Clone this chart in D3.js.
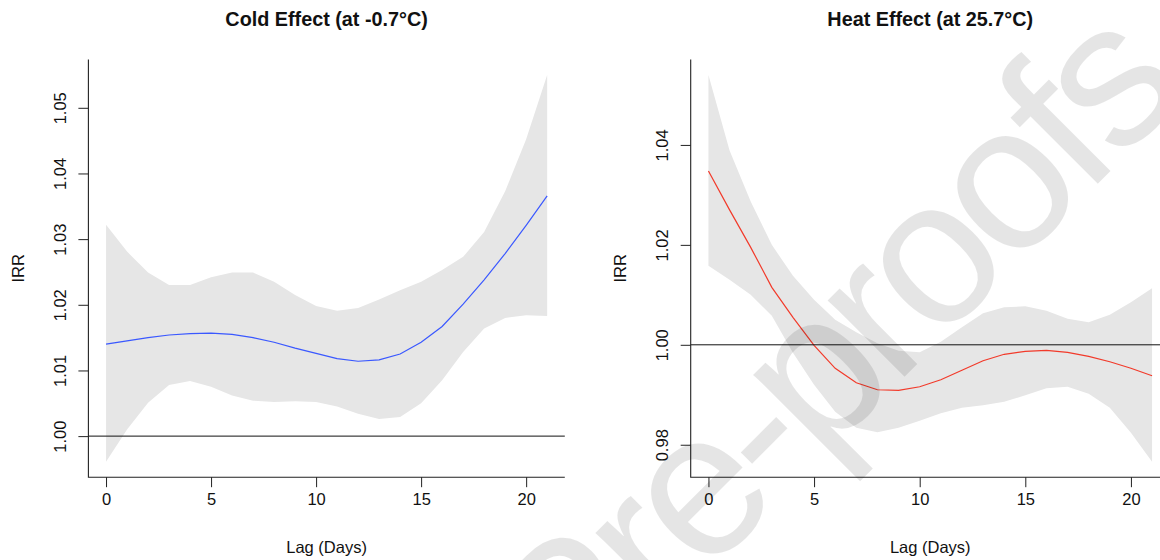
<!DOCTYPE html>
<html>
<head>
<meta charset="utf-8">
<script src="https://cdn.jsdelivr.net/npm/d3@7/dist/d3.min.js"></script>
<style>
  html, body { margin: 0; padding: 0; background: #fff; }
  svg { display: block; font-family: "Liberation Sans", Arial, Helvetica, sans-serif; }
</style>
</head>
<body>
<svg id="chart" width="1160" height="560"></svg>
<script>
"use strict";

// ==========  Data  ==========
var lags = [0, 1, 2, 3, 4, 5, 6, 7, 8, 9, 10, 11, 12, 13, 14, 15, 16, 17, 18, 19, 20, 21]
var xTicks = [0, 5, 10, 15, 20]

var coldFit   = [1.0140, 1.0145, 1.0150, 1.0154, 1.0156, 1.0157, 1.0155, 1.0150, 1.0143, 1.0134, 1.0126,
                 1.0118, 1.0114, 1.0116, 1.0125, 1.0143, 1.0167, 1.0201, 1.0238, 1.0278, 1.0321, 1.0366]
var coldUpper = [1.0322, 1.0281, 1.0249, 1.0230, 1.0230, 1.0242, 1.0249, 1.0249, 1.0235, 1.0215, 1.0198,
                 1.0191, 1.0195, 1.0208, 1.0222, 1.0235, 1.0253, 1.0273, 1.0311, 1.0373, 1.0452, 1.0550]
var coldLower = [0.9961, 1.0010, 1.0051, 1.0078, 1.0084, 1.0075, 1.0062, 1.0054, 1.0052, 1.0053, 1.0052,
                 1.0045, 1.0034, 1.0026, 1.0029, 1.0050, 1.0085, 1.0128, 1.0164, 1.0180, 1.0184, 1.0183]
var coldTicks = [1.00, 1.01, 1.02, 1.03, 1.04, 1.05]

var heatFit   = [1.0348, 1.0270, 1.0195, 1.0115, 1.0055, 0.9999, 0.9953, 0.9924, 0.9910, 0.9909, 0.9916,
                 0.9930, 0.9949, 0.9968, 0.9981, 0.9987, 0.9989, 0.9985, 0.9977, 0.9966, 0.9953, 0.9938]
var heatUpper = [1.0540, 1.0389, 1.0287, 1.0200, 1.0138, 1.0090, 1.0050, 1.0025, 1.0003, 0.9988, 0.9985,
                 1.0006, 1.0035, 1.0063, 1.0075, 1.0077, 1.0068, 1.0052, 1.0045, 1.0060, 1.0085, 1.0113]
var heatLower = [1.0158, 1.0130, 1.0100, 1.0058, 0.9984, 0.9920, 0.9866, 0.9834, 0.9825, 0.9834, 0.9848,
                 0.9863, 0.9874, 0.9879, 0.9886, 0.9899, 0.9913, 0.9916, 0.9902, 0.9874, 0.9824, 0.9766]
var heatTicks = [0.98, 1.00, 1.02, 1.04]

var panels = [
  { title: "Cold Effect (at -0.7°C)", fit: coldFit, upper: coldUpper, lower: coldLower,
    yTicks: coldTicks, color: "#3a58ff", left: 88.4, right: 564.8 },
  { title: "Heat Effect (at 25.7°C)", fit: heatFit, upper: heatUpper, lower: heatLower,
    yTicks: heatTicks, color: "#f23a2a", left: 690.7, right: 1169.8 }
]

var watermark = "Journal Pre-proofs"

// ==========  Drawing  ==========
var svg        = d3.select('#chart')
var plotTop    = 59.5
var plotBottom = 477.2

// R-style 4% padding around the data range
var padded = function(extent) {
  var pad = (extent[1] - extent[0]) * 0.04
  return [extent[0] - pad, extent[1] + pad]
}

var drawPanel = function(p) {
  var x = d3.scaleLinear().domain(padded(d3.extent(lags))).range([p.left, p.right])
  var y = d3.scaleLinear().domain(padded(d3.extent(p.upper.concat(p.lower, p.fit)))).range([plotBottom, plotTop])
  var g = svg.append('g')

  var band = d3.area()
    .x(function(d, i) { return x(lags[i]) })
    .y0(function(d, i) { return y(p.lower[i]) })
    .y1(function(d) { return y(d) })
  g.append('path').attr('d', band(p.upper)).attr('fill', '#e6e6e6')

  var line = d3.line()
    .x(function(d, i) { return x(lags[i]) })
    .y(function(d) { return y(d) })
  g.append('path').attr('d', line(p.fit))
    .attr('fill', 'none').attr('stroke', p.color).attr('stroke-width', 1.2)

  // reference line at IRR = 1
  g.append('line')
    .attr('x1', p.left).attr('x2', p.right)
    .attr('y1', y(1)).attr('y2', y(1))
    .attr('stroke', '#111').attr('stroke-width', 1)

  // L-shaped box
  g.append('path')
    .attr('d', 'M' + p.left + ',' + plotTop + 'V' + plotBottom + 'H' + p.right)
    .attr('fill', 'none').attr('stroke', '#222').attr('stroke-width', 1.1)

  var xAxis = d3.axisBottom(x).tickValues(xTicks).tickSize(10).tickPadding(6).tickFormat(d3.format('d'))
  var gx = g.append('g').attr('transform', 'translate(0,' + plotBottom + ')').call(xAxis)
  gx.select('.domain').remove()
  gx.selectAll('line').attr('stroke', '#222')
  gx.selectAll('text').attr('font-size', 16.5).attr('fill', '#111')
  gx.attr('font-family', null)

  var yAxis = d3.axisLeft(y).tickValues(p.yTicks).tickSize(10).tickFormat(d3.format('.2f'))
  var gy = g.append('g').attr('transform', 'translate(' + p.left + ',0)').call(yAxis)
  gy.select('.domain').remove()
  gy.selectAll('line').attr('stroke', '#222')
  gy.attr('font-family', null)
  gy.selectAll('text')
    .attr('font-size', 16.5).attr('fill', '#111')
    .attr('x', null).attr('dy', null)
    .attr('text-anchor', 'middle')
    .attr('transform', 'translate(-22.5,0) rotate(-90)')

  var cx = (p.left + p.right) / 2
  g.append('text').text(p.title)
    .attr('x', cx).attr('y', 26)
    .attr('text-anchor', 'middle').attr('font-weight', 'bold').attr('font-size', 19.8).attr('fill', '#111')
  g.append('text').text('Lag (Days)')
    .attr('x', cx).attr('y', 553)
    .attr('text-anchor', 'middle').attr('font-size', 16.5).attr('fill', '#111')
  g.append('text').text('IRR')
    .attr('text-anchor', 'middle').attr('font-size', 16.5).attr('fill', '#111')
    .attr('transform', 'translate(' + (p.left - 64.5) + ',' + ((plotTop + plotBottom) / 2) + ') rotate(-90)')
}

panels.forEach(drawPanel)

// ==========  Watermark  ==========
// proof watermark laid over everything; the "oo" of "proofs" is pinned to where it sits in the figure
var wmSize = 205
var wm = svg.append('g').attr('transform', 'translate(973,233) rotate(-45)')
var wmText = wm.append('text').text(watermark)
  .attr('font-size', wmSize)
  .attr('letter-spacing', -9)
  .attr('fill', '#000').attr('fill-opacity', 0.1)
var oo = watermark.indexOf('oo')
var a = wmText.node().getExtentOfChar(oo)
var b = wmText.node().getExtentOfChar(oo + 1)
var midX = (a.x + b.x + b.width) / 2
wmText.attr('x', -midX).attr('y', wmSize * 0.26)   // x-height middle on the pin
</script>
</body>
</html>
